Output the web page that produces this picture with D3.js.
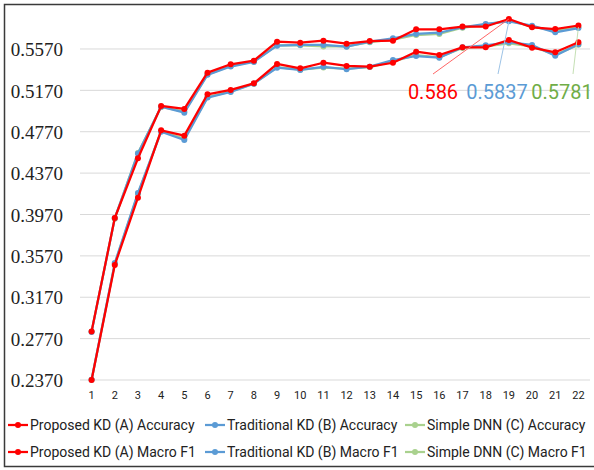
<!DOCTYPE html>
<html><head><meta charset="utf-8">
<script src="https://cdn.jsdelivr.net/npm/d3@7"></script>
<style>body{margin:0;background:#fff}svg{display:block}</style>
</head><body>
<script>
const categories = [1,2,3,4,5,6,7,8,9,10,11,12,13,14,15,16,17,18,19,20,21,22];
const yTicks = [0.2370,0.2770,0.3170,0.3570,0.3970,0.4370,0.4770,0.5170,0.5570];
const redAcc   = [0.2840,0.3936,0.4513,0.5019,0.4990,0.5341,0.5422,0.5457,0.5641,0.5631,0.5650,0.5621,0.5647,0.5650,0.5760,0.5760,0.5787,0.5787,0.5860,0.5779,0.5763,0.5797];
const blueAcc  = [0.2835,0.3936,0.4560,0.5012,0.4954,0.5320,0.5400,0.5445,0.5602,0.5609,0.5609,0.5592,0.5640,0.5673,0.5715,0.5727,0.5780,0.5812,0.5837,0.5795,0.5731,0.5772];
const greenAcc = [0.2840,0.3930,0.4565,0.5010,0.4965,0.5325,0.5405,0.5450,0.5605,0.5605,0.5595,0.5595,0.5635,0.5660,0.5705,0.5715,0.5775,0.5805,0.5845,0.5785,0.5745,0.5781];
const redF1    = [0.2370,0.3482,0.4132,0.4784,0.4732,0.5132,0.5174,0.5238,0.5425,0.5383,0.5437,0.5406,0.5399,0.5437,0.5544,0.5512,0.5586,0.5586,0.5657,0.5583,0.5538,0.5635];
const blueF1   = [0.2372,0.3500,0.4178,0.4770,0.4690,0.5100,0.5154,0.5235,0.5389,0.5367,0.5398,0.5374,0.5399,0.5463,0.5502,0.5486,0.5586,0.5606,0.5635,0.5609,0.5505,0.5615];
const greenF1  = [0.2372,0.3495,0.4170,0.4775,0.4705,0.5105,0.5160,0.5235,0.5395,0.5370,0.5390,0.5380,0.5395,0.5450,0.5510,0.5490,0.5580,0.5595,0.5625,0.5595,0.5515,0.5610];
const seriesNames = ["Proposed KD (A) Accuracy","Traditional KD (B) Accuracy","Simple DNN (C) Accuracy","Proposed KD (A) Macro F1","Traditional KD (B) Macro F1","Simple DNN (C) Macro F1"];
const annotations = [
  {text:"0.586", series:0, index:18},
  {text:"0.5837", series:1, index:18},
  {text:"0.5781", series:2, index:21}
];

const W=594,H=470;
const RED="#FF0000", BLUE="#5B9BD5", GREEN="#A9D18E";
const series = [
  {name:seriesNames[0], values:redAcc, color:RED},
  {name:seriesNames[1], values:blueAcc, color:BLUE},
  {name:seriesNames[2], values:greenAcc, color:GREEN},
  {name:seriesNames[3], values:redF1, color:RED},
  {name:seriesNames[4], values:blueF1, color:BLUE},
  {name:seriesNames[5], values:greenF1, color:GREEN}
];
const svg=d3.select("body").append("svg").attr("width",W).attr("height",H);
svg.append("rect").attr("x",4.5).attr("y",4.5).attr("width",W+10).attr("height",H-8).attr("fill","none").attr("stroke","#3a3a3a").attr("stroke-width",1.5);

const x=d3.scaleBand().domain(categories).range([80,590]);
const y=d3.scaleLinear().domain([0.2370,0.5970]).range([380,7.6]);
const cx=d=>x(d)+x.bandwidth()/2;

svg.append("g").selectAll("line").data(yTicks).join("line")
  .attr("x1",80).attr("x2",590).attr("y1",d=>y(d)).attr("y2",d=>y(d))
  .attr("stroke","#d9d9d9").attr("stroke-width",1);

const yAxis=d3.axisLeft(y).tickValues(yTicks).tickFormat(d3.format(".4f")).tickSize(0).tickPadding(0);
const gy=svg.append("g").attr("transform","translate(63,0)").call(yAxis);
gy.select(".domain").remove();
gy.selectAll("text").attr("font-family","'Liberation Serif', serif").attr("font-size",19).attr("fill","#222").attr("dy","0.35em");

const xAxis=d3.axisBottom(x).tickSize(0).tickPadding(0);
const gx=svg.append("g").attr("transform","translate(0,391)").call(xAxis);
gx.select(".domain").remove();
gx.selectAll("text").attr("font-family","Roboto, sans-serif").attr("font-size",11).attr("fill","#222");

const line=d3.line().x((d,i)=>cx(categories[i])).y(d=>y(d));
const order=[2,5,1,4,0,3];
order.forEach(k=>{
  const s=series[k];
  const g=svg.append("g");
  g.append("path").attr("d",line(s.values)).attr("fill","none").attr("stroke",s.color).attr("stroke-width",2.25).attr("stroke-linejoin","round");
  g.selectAll("circle").data(s.values).join("circle")
    .attr("cx",(d,i)=>cx(categories[i])).attr("cy",d=>y(d)).attr("r",3).attr("fill",s.color);
});

const annColors=["#FF0000","#5B9BD5","#70AD47"];
const lineColors=["#FF6666","#9DC3E6","#C5E0B4"];
const labelPos=[{x:433,y:99,lx:433,ly:74},{x:497,y:99,lx:498,ly:74},{x:562,y:99,lx:573,ly:74}];
annotations.forEach((a,i)=>{
  const s=series[a.series];
  const px=cx(categories[a.index]), py=y(s.values[a.index]);
  svg.append("line").attr("x1",labelPos[i].lx).attr("y1",labelPos[i].ly).attr("x2",px).attr("y2",py)
    .attr("stroke",lineColors[i]).attr("stroke-width",1);
  svg.append("text").attr("x",labelPos[i].x).attr("y",labelPos[i].y).attr("text-anchor","middle")
    .attr("font-family","Roboto, sans-serif").attr("font-size",20).attr("fill",annColors[i]).text(a.text);
});

const legX=[8,205,405], legY=[425,452];
series.forEach((s,k)=>{
  const col=k%3,row=Math.floor(k/3);
  const g=svg.append("g").attr("transform",`translate(${legX[col]},${legY[row]})`);
  g.append("line").attr("x1",0).attr("x2",20).attr("y1",0).attr("y2",0).attr("stroke",s.color).attr("stroke-width",2.25);
  g.append("circle").attr("cx",10).attr("cy",0).attr("r",3).attr("fill",s.color);
  g.append("text").attr("x",22).attr("y",0).attr("dy","0.36em").attr("font-family","Roboto, sans-serif").attr("font-size",14).attr("fill","#222").text(s.name);
});
</script>
</body></html>
